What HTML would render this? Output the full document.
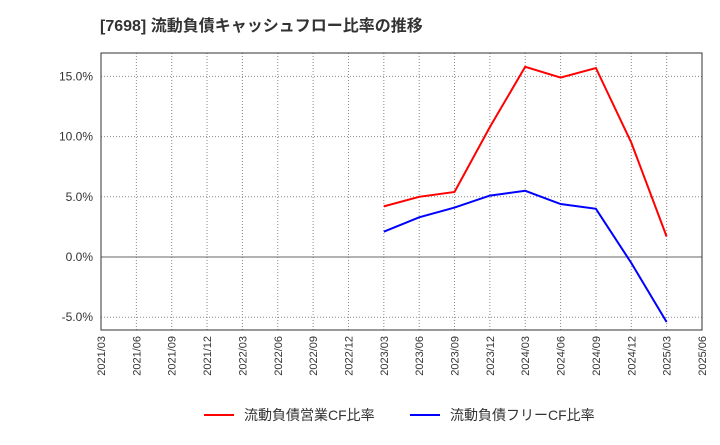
<!DOCTYPE html>
<html><head><meta charset="utf-8"><style>
body{margin:0;background:#fff;font-family:"Liberation Sans","Noto Sans CJK JP",sans-serif;}
</style></head><body>
<svg id="c" width="720" height="440" xmlns="http://www.w3.org/2000/svg" font-family="Liberation Sans, Noto Sans CJK JP, sans-serif">
<text x="100" y="31" font-size="16" font-weight="bold" fill="#333">[7698]  流動負債キャッシュフロー比率の推移</text>
<g id="grid"></g><g id="axes"></g><g id="series"></g>
<g>
<line x1="204" y1="415" x2="234" y2="415" stroke="#f00" stroke-width="2"/>
<text x="244" y="420" font-size="14" fill="#333">流動負債営業CF比率</text>
<line x1="410" y1="415" x2="440" y2="415" stroke="#00f" stroke-width="2"/>
<text x="450" y="420" font-size="14" fill="#333">流動負債フリーCF比率</text>
</g>
</svg>
<script>
const categories=["2021/03","2021/06","2021/09","2021/12","2022/03","2022/06","2022/09","2022/12","2023/03","2023/06","2023/09","2023/12","2024/03","2024/06","2024/09","2024/12","2025/03","2025/06"];
const yTicks=[-5,0,5,10,15];
const yTickLabels=["-5.0%","0.0%","5.0%","10.0%","15.0%"];
const operatingCF=[null,null,null,null,null,null,null,null,4.2,5.0,5.4,10.8,15.8,14.9,15.7,9.5,1.7,null];
const freeCF=[null,null,null,null,null,null,null,null,2.1,3.3,4.1,5.1,5.5,4.4,4.0,-0.5,-5.4,null];
const L=101,R=702,T=53,B=330;
const xs=i=>L+i*(R-L)/(categories.length-1);
const ys=v=>257-v*12.04;
const NS="http://www.w3.org/2000/svg";
function mk(t,a,p){const e=document.createElementNS(NS,t);for(const k in a)e.setAttribute(k,a[k]);p.appendChild(e);return e;}
const g=document.getElementById('grid'),ax=document.getElementById('axes'),s=document.getElementById('series');
categories.forEach((c,i)=>{
 const l=mk('line',{x1:xs(i),x2:xs(i),y1:T,y2:B,stroke:'#888','stroke-dasharray':'1,2','stroke-width':1},g);
 
 
 const t=mk('text',{x:0,y:0,'font-size':11,fill:'#333','text-anchor':'end',transform:`translate(${xs(i)+4},${B+6}) rotate(-90)`},ax);
 t.textContent=c;
 
 
});
yTicks.forEach((v,i)=>{
 const l=mk('line',{x1:L,x2:R,y1:ys(v),y2:ys(v),stroke:v===0?'#666':'#888','stroke-dasharray':v===0?'':'1,2','stroke-width':1},g);
 
 
 const t=mk('text',{x:L-8,y:ys(v)+4,'font-size':12,fill:'#333','text-anchor':'end'},ax);
 t.textContent=yTickLabels[i];
 
 
});
const fr=mk('rect',{x:L,y:T,width:R-L,height:B-T,fill:'none',stroke:'#333','stroke-width':1},ax);


function line(data,color,name){
 const pts=[];data.forEach((v,i)=>{if(v!==null)pts.push(xs(i).toFixed(1)+','+ys(v).toFixed(1));});
 const p=mk('polyline',{points:pts.join(' '),fill:'none',stroke:color,'stroke-width':2},s);
 
 
}
line(operatingCF,'#f00','operating-cf-line');
line(freeCF,'#00f','free-cf-line');
</script>
</body></html>
